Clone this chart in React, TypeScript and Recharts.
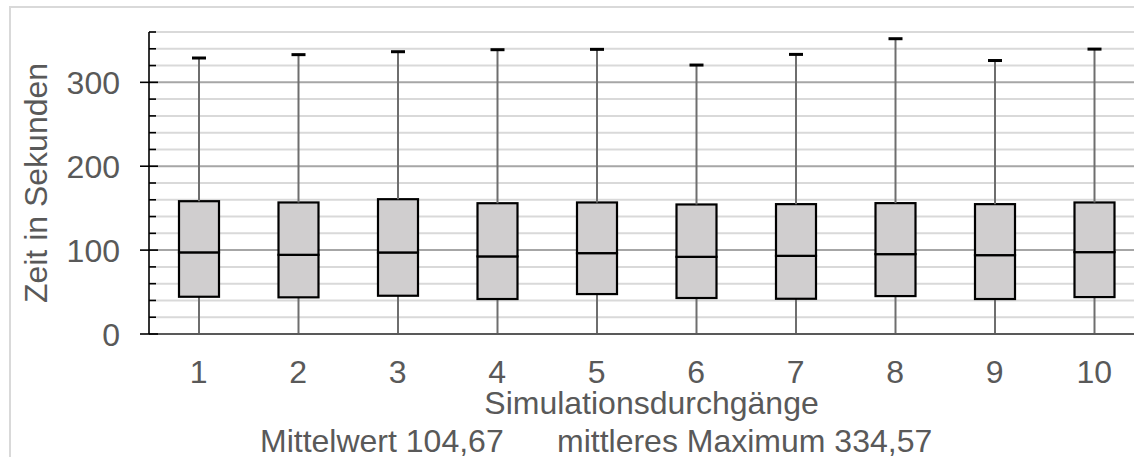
import React from 'react';
import { ComposedChart, Bar, XAxis, YAxis, CartesianGrid, Label } from 'recharts';

const runs = ['1', '2', '3', '4', '5', '6', '7', '8', '9', '10'];
const minValues = [0, 0, 0, 0, 0, 0, 0, 0, 0, 0];
const q1Values = [44.4, 43.7, 45.6, 41.7, 47.6, 42.9, 42.0, 45.2, 41.7, 44.0];
const medianValues = [97.3, 94.4, 97.2, 92.5, 96.4, 92.0, 93.2, 95.2, 94.0, 97.6];
const q3Values = [158.3, 156.8, 160.7, 155.9, 156.8, 154.4, 154.8, 156.0, 154.8, 156.8];
const maxValues = [329.0, 333.0, 336.5, 338.9, 339.3, 320.6, 333.3, 352.0, 326.0, 339.6];

const yTicks = [0, 20, 40, 60, 80, 100, 120, 140, 160, 180, 200, 220, 240, 260, 280, 300, 320, 340, 360];
const majorGrid = yTicks.filter((v) => v % 100 === 0);
const minorGrid = yTicks.filter((v) => v % 100 !== 0);

const xTitle = 'Simulationsdurchgänge';
const yTitle = 'Zeit in Sekunden';
const meanText = 'Mittelwert 104,67';
const maxText = 'mittleres Maximum 334,57';

const data = runs.map((run, i) => ({
  run,
  base: minValues[i],
  lowW: q1Values[i] - minValues[i],
  lowBox: medianValues[i] - q1Values[i],
  upBox: q3Values[i] - medianValues[i],
  upW: maxValues[i] - q3Values[i],
}));

const FONT = '"Liberation Sans", Arial, sans-serif';
const TXT = '#595959';
const FS = 32;
const Y_MARGIN = 29;

const EmptyShape = () => <g />;

const LowerWhisker = (p: any) => {
  const cx = p.x + p.width / 2;
  return <line x1={cx} x2={cx} y1={p.y} y2={p.y + p.height} stroke="#6e6e6e" strokeWidth={2} />;
};

const BoxPart = (p: any) => (
  <rect x={p.x} y={p.y} width={p.width} height={p.height} fill="#d0cecf" stroke="#000" strokeWidth={2.2} />
);

const UpperWhisker = (p: any) => {
  const cx = p.x + p.width / 2;
  return (
    <g>
      <line x1={cx} x2={cx} y1={p.y} y2={p.y + p.height} stroke="#6e6e6e" strokeWidth={2} />
      <rect x={cx - 7} y={p.y - 1.5} width={14} height={3} fill="#000" />
    </g>
  );
};

const YTick = (p: any) => {
  const v = p.payload.value;
  const major = v % 100 === 0;
  const ax = p.x + Y_MARGIN;
  return (
    <g>
      <line x1={major ? ax - 9 : ax} x2={major ? ax + 9 : ax + 7} y1={p.y} y2={p.y} stroke="#000" strokeWidth={1.6} />
      {major && (
        <text x={p.x} y={p.y} dy="0.36em" textAnchor="end" fontFamily={FONT} fontSize={FS} fill={TXT}>
          {v}
        </text>
      )}
    </g>
  );
};

const XTick = (p: any) => (
  <text x={p.x} y={p.y} textAnchor="middle" fontFamily={FONT} fontSize={FS} fill={TXT}>
    {p.payload.value}
  </text>
);

export default function App() {
  return (
    <div style={{ position: 'absolute', left: 0, top: 0, width: 1134, height: 457, overflow: 'hidden', background: '#fff' }}>
      <div
        style={{
          position: 'absolute',
          left: 9,
          top: 6,
          width: 1300,
          height: 600,
          border: '2px solid #d9d9d9',
          boxSizing: 'border-box',
        }}
      />
      <div style={{ position: 'absolute', left: 0, top: 0 }}>
        <ComposedChart width={1144} height={464} data={data} margin={{ top: 32, right: 0, bottom: 0, left: 0 }}>
          <CartesianGrid vertical={false} horizontalValues={minorGrid} stroke="#d9d9d9" strokeWidth={2} />
          <CartesianGrid vertical={false} horizontalValues={majorGrid} stroke="#a6a6a6" strokeWidth={2} />
          <XAxis
            dataKey="run"
            height={130}
            interval={0}
            tickLine={false}
            tickSize={0}
            tickMargin={49}
            axisLine={{ stroke: '#595959', strokeWidth: 2 }}
            tick={<XTick />}
          >
            <Label
              content={(props: any) => {
                const vb = props.viewBox;
                return (
                  <text x={vb.x + vb.width / 2 + 5} y={vb.y + 80} textAnchor="middle" fontFamily={FONT} fontSize={FS} fill={TXT}>
                    {xTitle}
                  </text>
                );
              }}
            />
            <Label
              content={(props: any) => {
                const vb = props.viewBox;
                return (
                  <g>
                    <text x={vb.x + 111} y={vb.y + 118} textAnchor="start" fontFamily={FONT} fontSize={FS} fill={TXT}>
                      {meanText}
                    </text>
                    <text x={vb.x + 408} y={vb.y + 118} textAnchor="start" fontFamily={FONT} fontSize={FS} fill={TXT}>
                      {maxText}
                    </text>
                  </g>
                );
              }}
            />
          </XAxis>
          <YAxis
            width={149}
            domain={[0, 360]}
            ticks={yTicks}
            interval={0}
            tickLine={false}
            tickSize={0}
            tickMargin={Y_MARGIN}
            axisLine={{ stroke: '#000', strokeWidth: 1.6 }}
            tick={<YTick />}
          >
            <Label
              content={(props: any) => {
                const vb = props.viewBox;
                const cx = 47;
                const cy = vb.y + vb.height / 2;
                return (
                  <text x={cx} y={cy} transform={`rotate(-90, ${cx}, ${cy})`} textAnchor="middle" fontFamily={FONT} fontSize={FS} fill={TXT}>
                    {yTitle}
                  </text>
                );
              }}
            />
          </YAxis>
          <Bar dataKey="base" stackId="s" barSize={40} isAnimationActive={false} shape={<EmptyShape />} />
          <Bar dataKey="lowW" stackId="s" barSize={40} isAnimationActive={false} shape={<LowerWhisker />} />
          <Bar dataKey="lowBox" stackId="s" barSize={40} isAnimationActive={false} shape={<BoxPart />} />
          <Bar dataKey="upBox" stackId="s" barSize={40} isAnimationActive={false} shape={<BoxPart />} />
          <Bar dataKey="upW" stackId="s" barSize={40} isAnimationActive={false} shape={<UpperWhisker />} />
        </ComposedChart>
      </div>
    </div>
  );
}
